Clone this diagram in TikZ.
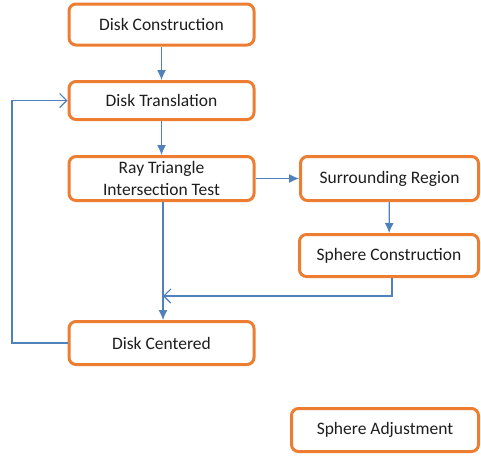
\documentclass[tikz,border=0pt]{standalone}
\usepackage{fontspec}
\setmainfont{Carlito}
\usetikzlibrary{arrows.meta,calc,positioning}

\definecolor{boxorange}{RGB}{237,125,49}
\definecolor{flowblue}{RGB}{79,129,189}
\definecolor{txtgray}{RGB}{30,30,30}

\tikzset{
  stepbox/.style={rectangle,rounded corners=7pt,draw=boxorange,line width=3pt,fill=white,
    text=txtgray,font=\fontsize{17.5}{17}\selectfont,align=center,inner sep=0pt},
  flow/.style={draw=flowblue,line width=1.2pt,-{Latex[length=10pt,width=9pt]}},
  back/.style={draw=flowblue,line width=1.2pt,-{Straight Barb[length=7pt,width=14pt,line width=1.1pt]}}
}

\begin{document}
\begin{tikzpicture}[x=1pt,y=-1pt]
\fill[white] (0,0) rectangle (481,456);
\useasboundingbox (0,0) rectangle (481,456);

\node[stepbox,minimum width=185pt,minimum height=41pt] (cons) at (161.5,24.5) {Disk Construction};
\node[stepbox,minimum width=185pt,minimum height=38pt] (trans) at (161.5,100.5) {Disk Translation};
\node[stepbox,minimum width=185pt,minimum height=44pt] (ray) at (161.5,178.5) {Ray Triangle\\[5pt]Intersection Test};
\node[stepbox,minimum width=178pt,minimum height=44pt] (surr) at (389.5,178.5) {Surrounding Region};
\node[stepbox,minimum width=179pt,minimum height=42pt] (sphc) at (389,255.5) {Sphere Construction};
\node[stepbox,minimum width=185pt,minimum height=43pt] (cent) at (161.5,343) {Disk Centered};
\node[stepbox,minimum width=187pt,minimum height=43pt] (adj) at (385,430) {Sphere Adjustment};

\coordinate (join) at (163,296);
\coordinate (lowleft) at (12,343);
\coordinate (upleft) at (12,100.5);

\draw[flow] (cons) -- (trans);
\draw[flow] (trans) -- (ray);
\draw[flow] (ray) -- (surr);
\draw[flow] (surr) -- (sphc);
\draw[flow] (ray.south -| join) -- (cent.north -| join);
\draw[back] ($(sphc.south)+(3,0)$) |- (join);
\draw[back] (cent.west) -- (lowleft) -- (upleft) -- (trans.west);

\end{tikzpicture}
\end{document}
